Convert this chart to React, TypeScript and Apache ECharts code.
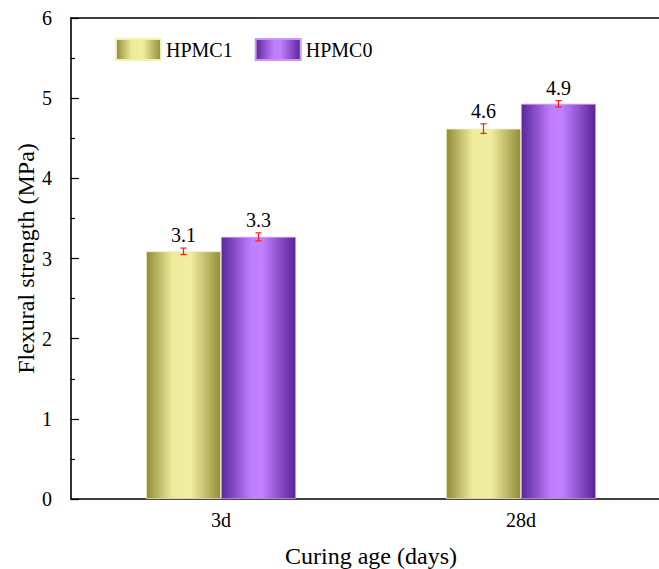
import React, { useEffect, useRef } from "react";
import * as echarts from "echarts";

const categories = ["3d", "28d"];
const hpmc1Values = [3.09, 4.62];
const hpmc0Values = [3.27, 4.93];
const hpmc1Errors = [0.04, 0.06];
const hpmc0Errors = [0.05, 0.04];
const hpmc1Labels = ["3.1", "4.6"];
const hpmc0Labels = ["3.3", "4.9"];
const yTicks = [0, 1, 2, 3, 4, 5, 6];

const FONT = "Liberation Serif";

function grad(stops: [number, string][]) {
  return new echarts.graphic.LinearGradient(
    0, 0, 1, 0,
    stops.map(([offset, color]) => ({ offset, color }))
  );
}

export default function App() {
  const ref = useRef<HTMLDivElement>(null);
  useEffect(() => {
    if (!ref.current) return;
    const chart = echarts.init(ref.current, null, { renderer: "svg" });

    const makeErr = (vals: number[], errs: number[], labels: string[], side: number) => ({
      type: "custom",
      z: 10,
      data: vals.map((v, i) => [i, v, errs[i]]),
      encode: { x: 0, y: 1 },
      renderItem: (params: any, api: any) => {
        const i = api.value(0);
        const v = api.value(1);
        const e = api.value(2);
        const band = api.size([1, 0])[0];
        const barW = band * 0.25;
        const c = api.coord([i, v]);
        const cx = c[0] + side * barW / 2;
        const top = api.coord([i, v + e])[1];
        const bot = api.coord([i, v - e])[1];
        const cap = 3;
        const st = { stroke: "#ff1a1a", lineWidth: 1.2 };
        return {
          type: "group",
          children: [
            { type: "line", shape: { x1: cx, y1: top, x2: cx, y2: bot }, style: st },
            { type: "line", shape: { x1: cx - cap, y1: top, x2: cx + cap, y2: top }, style: st },
            { type: "line", shape: { x1: cx - cap, y1: bot, x2: cx + cap, y2: bot }, style: st },
            {
              type: "text",
              x: cx,
              y: top - 3,
              style: {
                text: labels[i],
                fill: "#000",
                fontSize: 20,
                fontFamily: FONT,
                align: "center",
                verticalAlign: "bottom",
              },
            },
          ],
        };
      },
    });

    chart.setOption({
      animation: false,
      backgroundColor: "#fff",
      textStyle: { fontFamily: FONT },
      legend: {
        data: ["HPMC1", "HPMC0"],
        left: 115,
        top: 38,
        padding: 0,
        itemWidth: 45,
        itemHeight: 21,
        itemGap: 22,
        icon: "rect",
        textStyle: { fontSize: 20, color: "#000", fontFamily: FONT },
      },
      grid: {
        left: 71,
        top: 18,
        width: 600,
        height: 481,
        outerBoundsMode: "none",
        containLabel: false,
        show: false,
      },
      xAxis: [
        {
          type: "category",
          data: categories,
          name: "Curing age (days)",
          nameLocation: "middle",
          nameGap: 45,
          nameMoveOverlap: false,
          nameTextStyle: { fontSize: 24, color: "#000", fontFamily: FONT },
          axisLine: { lineStyle: { color: "#000", width: 1.6 } },
          axisTick: { show: false },
          axisLabel: { fontSize: 20, color: "#000", margin: 11, fontFamily: FONT },
        },
        {
          type: "category",
          data: categories,
          position: "top",
          axisLine: { show: true, lineStyle: { color: "#000", width: 1.6 } },
          axisTick: { show: false },
          axisLabel: { show: false },
        },
      ],
      yAxis: {
        type: "value",
        min: 0,
        max: 6,
        interval: 1,
        name: "Flexural strength (MPa)",
        nameLocation: "middle",
        nameGap: 33,
        nameMoveOverlap: false,
        nameTextStyle: { fontSize: 24, color: "#000", fontFamily: FONT },
        axisLine: { show: true, lineStyle: { color: "#000", width: 1.6 } },
        axisTick: { show: true, inside: true, length: 8, lineStyle: { color: "#000", width: 1.2 } },
        minorTick: { show: true, splitNumber: 2, length: 4, lineStyle: { color: "#000", width: 1.2 } },
        splitLine: { show: false },
        axisLabel: {
          fontSize: 20,
          color: "#000",
          margin: 19,
          fontFamily: FONT,
          formatter: (v: number) => (yTicks.includes(v) ? String(v) : ""),
        },
      },
      series: [
        {
          name: "HPMC1",
          type: "bar",
          data: hpmc1Values,
          barGap: "0%",
          barCategoryGap: "50%",
          itemStyle: {
            color: grad([
              [0, "#908b36"],
              [0.35, "#eeeb9c"],
              [0.6, "#f0ed9f"],
              [1, "#938d37"],
            ]),
            borderColor: "#f3f0c0",
            borderWidth: 0.8,
          },
        },
        {
          name: "HPMC0",
          type: "bar",
          data: hpmc0Values,
          itemStyle: {
            color: grad([
              [0, "#5b269b"],
              [0.4, "#bf7efc"],
              [0.55, "#c180ff"],
              [1, "#5a2397"],
            ]),
            borderColor: "#c69af0",
            borderWidth: 0.8,
          },
        },
        makeErr(hpmc1Values, hpmc1Errors, hpmc1Labels, -1),
        makeErr(hpmc0Values, hpmc0Errors, hpmc0Labels, 1),
      ],
    });
    return () => chart.dispose();
  }, []);
  return (
    <div
      ref={ref}
      style={{ width: 659, height: 569, position: "absolute", left: 0, top: 0, overflow: "hidden" }}
    />
  );
}
